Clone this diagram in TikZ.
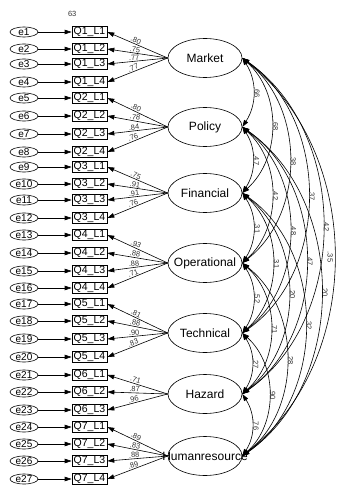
\documentclass[tikz,border=0pt]{standalone}
\usepackage{fontspec}
\setmainfont{Liberation Sans}
\usetikzlibrary{shapes.geometric,arrows.meta}

\newcommand{\nowidth}[1]{\makebox[0pt]{#1}}

\begin{document}
\begin{tikzpicture}[x=1pt,y=1pt,
        latent/.style={draw, ellipse, line width=0.6pt, minimum width=74pt, minimum height=39pt, inner sep=0pt, font=\fontsize{12}{13}\selectfont},
        obs/.style={draw, rectangle, line width=0.6pt, minimum width=35pt, minimum height=11pt, inner sep=0pt, font=\fontsize{10.5}{11}\selectfont},
        err/.style={draw, ellipse, line width=0.6pt, minimum width=28pt, minimum height=10pt, inner sep=0pt, font=\fontsize{10}{10}\selectfont},
        load/.style={-{Triangle[length=7pt,width=4.5pt]}, line width=0.6pt},
        cov/.style={{Triangle[length=7pt,width=4.5pt]}-{Triangle[length=7pt,width=4.5pt]}, line width=0.6pt},
        est/.style={font=\fontsize{7.5}{7.5}\selectfont, text=black!80, inner sep=0.8pt}]
        \useasboundingbox (0,0) rectangle (339,-486);

        % Latent factors
        \node[latent] (mkt) at (205,-58) {\nowidth{Market}};
        \node[latent] (pol) at (205,-127) {\nowidth{Policy}};
        \node[latent] (fin) at (205,-193) {\nowidth{Financial}};
        \node[latent] (ope) at (205,-263) {\nowidth{Operational}};
        \node[latent] (tec) at (205,-333) {\nowidth{Technical}};
        \node[latent] (haz) at (205,-394) {\nowidth{Hazard}};
        \node[latent] (hum) at (205,-456) {\nowidth{Humanresource}};

        % Items with their error terms
        \foreach \i/\y/\f/\k in {1/32/1/1, 2/49/1/2, 3/64/1/3, 4/82/1/4,
                5/98/2/1, 6/116/2/2, 7/134/2/3, 8/152/2/4,
                9/167/3/1, 10/184/3/2, 11/200/3/3, 12/218/3/4,
                13/235/4/1, 14/253/4/2, 15/271/4/3, 16/288/4/4,
                17/304/5/1, 18/321/5/2, 19/339/5/3, 20/357/5/4,
                21/375/6/1, 22/392/6/2, 23/410/6/3,
                24/427/7/1, 25/444/7/2, 26/461/7/3, 27/479/7/4} {
            \node[err] (e\i) at (24,-\y) {\nowidth{e\i}};
            \node[obs] (q\i) at (89.5,-\y) {Q\f\_L\k};
            \draw[load] (e\i) -- (q\i);
        }
        \node[est, anchor=west] (r1) at (67,-14) {63};

        % Factor loadings
        \foreach \f/\i/\v in {mkt/1/.80, mkt/2/.75, mkt/3/.77, mkt/4/.77,
                pol/5/.80, pol/6/.78, pol/7/.84, pol/8/.76,
                fin/9/.75, fin/10/.91, fin/11/.91, fin/12/.76,
                ope/13/.93, ope/14/.88, ope/15/.88, ope/16/.71,
                tec/17/.81, tec/18/.88, tec/19/.90, tec/20/.83,
                haz/21/.71, haz/22/.87, haz/23/.96,
                hum/24/.89, hum/25/.83, hum/26/.88, hum/27/.89}
            \draw[load] (\f.west) -- node[est, sloped, above, pos=0.55] {\v} (q\i.east);

        % Correlations between factors
        \foreach \a/\b/\ang/\v/\side in {mkt/pol/33/.66/above, mkt/fin/48/.68/above, mkt/ope/52/.38/above,
                mkt/tec/55/.37/above, mkt/haz/55/.42/above, mkt/hum/52/.35/below,
                pol/fin/33/.47/above, pol/ope/48/.42/above, pol/tec/52/.48/above, pol/haz/55/.47/above, pol/hum/55/.20/above,
                fin/ope/33/.31/above, fin/tec/48/.31/above, fin/haz/52/.20/above, fin/hum/55/.32/above,
                ope/tec/33/.52/above, ope/haz/48/.71/above, ope/hum/52/.28/above,
                tec/haz/33/.27/above, tec/hum/48/.90/above,
                haz/hum/33/.76/above}
            \draw[cov] (\a.east) to[bend left=\ang] node[est, sloped, \side, midway] {\v} (\b.east);
\end{tikzpicture}
\end{document}
